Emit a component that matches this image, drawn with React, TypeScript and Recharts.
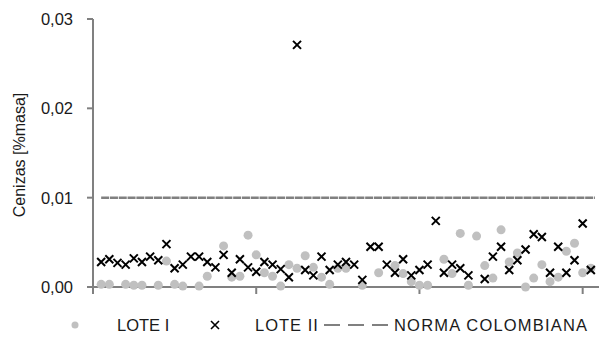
import React from "react";
import { ScatterChart, Scatter, XAxis, YAxis } from "recharts";

// muestra (x) y cenizas (y) de cada lote
const LOTE_I_X = [1, 2, 4, 5, 6, 8, 9, 10, 11, 13, 14, 16, 17, 18, 19, 20, 21, 22, 23, 24, 25, 26, 27, 28, 29, 30, 31, 33, 35, 37, 38, 39, 40, 41, 43, 44, 45, 46, 47, 48, 49, 50, 51, 52, 53, 54, 55, 56, 57, 58, 59, 60, 61];
const LOTE_I_Y = [0.0003, 0.0003, 0.0003, 0.0002, 0.0002, 0.0002, 0.0029, 0.0003, 0.0001, 0.0001, 0.0012, 0.0046, 0.0011, 0.0012, 0.0058, 0.0036, 0.0016, 0.0012, 0.0001, 0.0025, 0.0021, 0.0035, 0.0022, 0.0011, 0.0003, 0.0021, 0.0021, 0.0002, 0.0016, 0.0024, 0.0015, 0.0006, 0.0002, 0.0002, 0.0031, 0.0015, 0.006, 0.0002, 0.0057, 0.0024, 0.001, 0.0064, 0.0028, 0.0038, 0.0, 0.001, 0.0025, 0.0006, 0.0011, 0.004, 0.0049, 0.0016, 0.0021];

const LOTE_II_X = [1, 2, 3, 4, 5, 6, 7, 8, 9, 10, 11, 12, 13, 14, 15, 16, 17, 18, 19, 20, 21, 22, 23, 24, 25, 26, 27, 28, 29, 30, 31, 32, 33, 34, 35, 36, 37, 38, 39, 40, 41, 42, 43, 44, 45, 46, 48, 49, 50, 51, 52, 53, 54, 55, 56, 57, 58, 59, 60, 61];
const LOTE_II_Y = [0.0028, 0.0031, 0.0027, 0.0025, 0.0032, 0.0028, 0.0034, 0.003, 0.0048, 0.0021, 0.0025, 0.0034, 0.0034, 0.0028, 0.0022, 0.0036, 0.0016, 0.0031, 0.0022, 0.0017, 0.0028, 0.0025, 0.002, 0.0011, 0.0271, 0.0019, 0.0013, 0.0034, 0.0019, 0.0025, 0.0028, 0.0025, 0.0008, 0.0045, 0.0045, 0.0025, 0.0016, 0.0031, 0.0013, 0.0019, 0.0025, 0.0074, 0.0016, 0.0025, 0.0021, 0.0013, 0.0009, 0.0034, 0.0045, 0.0019, 0.003, 0.0042, 0.0059, 0.0056, 0.0016, 0.0045, 0.0016, 0.003, 0.0071, 0.0019];

const NORMA_X = [1, 61.5];
const NORMA_Y = [0.01, 0.01];

const X_TICKS = [0, 20, 40, 60];
const Y_TICKS = [0, 0.01, 0.02, 0.03];

const loteI = LOTE_I_X.map((x, i) => ({ x, y: LOTE_I_Y[i] }));
const loteII = LOTE_II_X.map((x, i) => ({ x, y: LOTE_II_Y[i] }));
const norma = NORMA_X.map((x, i) => ({ x, y: NORMA_Y[i] }));

const GREY = "#808080";
const INK = "#1a1a1a";
const FONT = "'Liberation Sans', Arial, sans-serif";

function DotShape({ cx, cy }: any) {
  return <circle cx={cx} cy={cy} r={4.5} fill="#C0C0C0" />;
}

function CrossShape({ cx, cy }: any) {
  const s = 4;
  return (
    <path
      d={`M${cx - s},${cy - s}L${cx + s},${cy + s}M${cx + s},${cy - s}L${cx - s},${cy + s}`}
      stroke="#000"
      strokeWidth={2}
    />
  );
}

const fmt = (v: number) => v.toFixed(2).replace(".", ",");

function Legend() {
  const txt = {
    fontFamily: FONT,
    fontSize: 16.5,
    color: INK,
    position: "absolute" as const,
    top: 315,
    lineHeight: "20px",
    whiteSpace: "nowrap" as const,
  };
  return (
    <>
      <svg style={{ position: "absolute", left: 0, top: 0 }} width={605} height={343}>
        <circle cx={75} cy={325} r={3.5} fill="#C0C0C0" />
        <path d="M211,321L219,329M219,321L211,329" stroke="#000" strokeWidth={1.6} />
        <line x1={324} y1={325} x2={393} y2={325} stroke={GREY} strokeWidth={2} strokeDasharray="16 8" />
      </svg>
      <div style={{ ...txt, left: 117 }}>LOTE I</div>
      <div style={{ ...txt, left: 255, letterSpacing: 1 }}>LOTE II</div>
      <div style={{ ...txt, left: 394, letterSpacing: 1.2 }}>NORMA COLOMBIANA</div>
    </>
  );
}

export default function App() {
  return (
    <div style={{ position: "absolute", left: 0, top: 0, width: 605, height: 343, background: "#fff" }}>
      <ScatterChart width={605} height={343} margin={{ top: 19, right: 6, bottom: 46, left: 0 }}>
        <XAxis
          type="number"
          dataKey="x"
          domain={[0, 62]}
          ticks={X_TICKS}
          tickFormatter={() => ""}
          height={10}
          stroke={GREY}
          strokeWidth={2}
          tickSize={7}
          tickLine={{ stroke: GREY, strokeWidth: 2 }}
          allowDataOverflow
        />
        <YAxis
          type="number"
          dataKey="y"
          domain={[0, 0.03]}
          ticks={Y_TICKS}
          tickFormatter={fmt}
          width={93}
          stroke={GREY}
          strokeWidth={2}
          tickSize={6}
          tickMargin={14}
          tickLine={{ stroke: GREY, strokeWidth: 2 }}
          tick={{ fill: INK, fontSize: 16.5, fontFamily: FONT }}
          label={{
            content: () => (
              <text
                x={19}
                y={155}
                transform="rotate(-90 19 155)"
                textAnchor="middle"
                dominantBaseline="central"
                fill={INK}
                fontSize={16}
                fontFamily={FONT}
              >
                Cenizas [%masa]
              </text>
            ),
          }}
        />
        <Scatter
          data={norma}
          line={{ stroke: GREY, strokeWidth: 2.5, strokeDasharray: "8 0.8" }}
          shape={() => null}
          isAnimationActive={false}
        />
        <Scatter data={loteI} shape={DotShape} isAnimationActive={false} />
        <Scatter data={loteII} shape={CrossShape} isAnimationActive={false} />
      </ScatterChart>
      <Legend />
    </div>
  );
}
